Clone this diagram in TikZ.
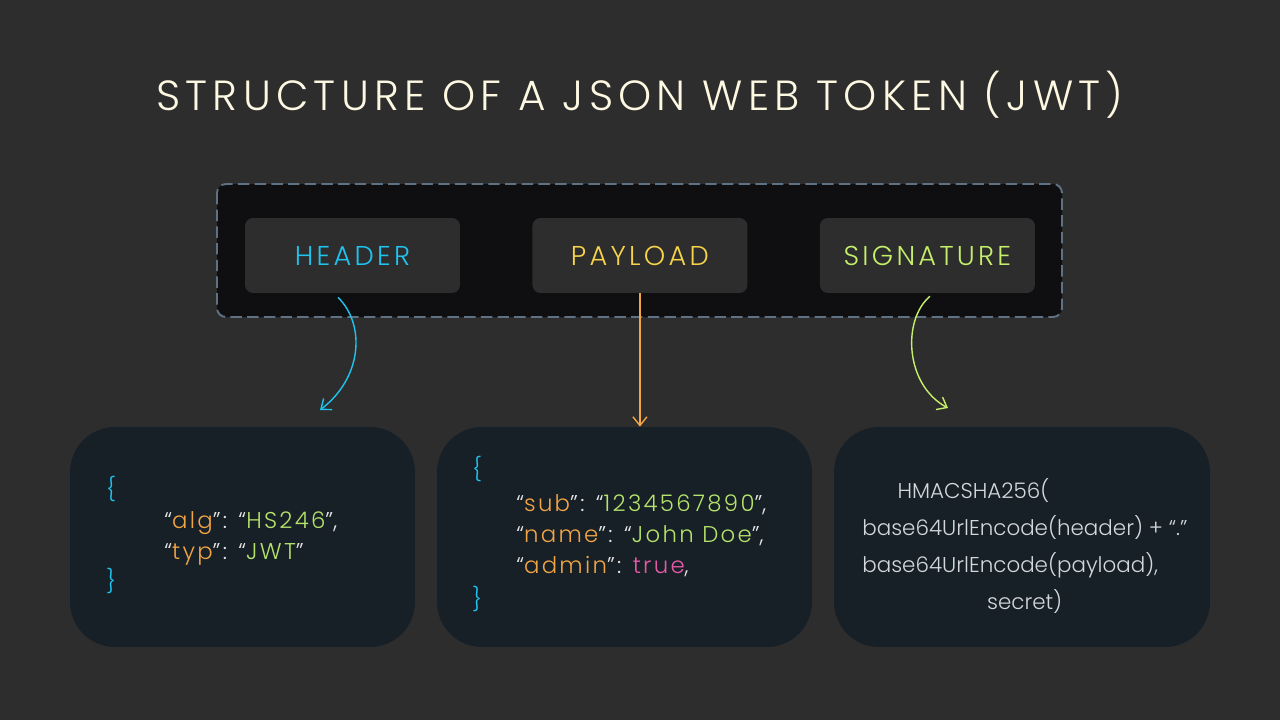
\documentclass[tikz,border=0pt]{standalone}
\usepackage{fontspec}
\usepackage{tikz}
\usetikzlibrary{arrows.meta,positioning}
\newfontfamily\titlefont[LetterSpace=12.5]{Poppins Light}
\newfontfamily\labelfont[LetterSpace=12]{Poppins Light}
\newfontfamily\codefont[LetterSpace=10]{Poppins Light}
\newfontfamily\calcfont{Poppins Light}
\definecolor{bgdark}{HTML}{2D2D2D}
\definecolor{binfill}{HTML}{0F0F11}
\definecolor{bindash}{HTML}{5E7284}
\definecolor{codefill}{HTML}{171F27}
\definecolor{titlecream}{HTML}{FDF8E1}
\definecolor{jwtcyan}{HTML}{1EC3EE}
\definecolor{jwtyellow}{HTML}{F6D34A}
\definecolor{jwtgreen}{HTML}{C5EF6A}
\definecolor{jwtorange}{HTML}{F2A545}
\definecolor{valgreen}{HTML}{B5E36B}
\definecolor{jwtpink}{HTML}{E85AA8}
\definecolor{quotegray}{HTML}{E6E6E6}
\definecolor{calcgray}{HTML}{D4D8DC}
\newcommand{\key}[1]{{\color{quotegray}“}{\color{jwtorange}#1}{\color{quotegray}”:}}
\newcommand{\val}[1]{{\color{quotegray}“}{\color{valgreen}#1}{\color{quotegray}”}}
\tikzstyle{element}=[
  fill=bgdark,
  font={\fontsize{15.5}{18}\labelfont},
  inner sep=0pt,
  minimum height=1.5cm,
  minimum width=4.3cm,
  rectangle,
  rounded corners=.16cm,
  text centered,
]
\tikzstyle{bin}=[
  fill=binfill,
  draw=bindash,
  line width=1.1pt,
  dash pattern=on 6.5pt off 3pt,
  rounded corners=.18cm,
]
\tikzstyle{codebox}=[
  fill=codefill,
  inner sep=0pt,
  minimum height=4.4cm,
  rectangle,
  rounded corners=.9cm,
]
\tikzstyle{code}=[
  align=left,
  color=quotegray,
  font={\fontsize{13}{17.5}\codefont},
  inner sep=0pt,
]
\tikzstyle{arrow}=[
  line width=.8pt,
]
\tikzset{
  node distance=5.75cm,
  >={Straight Barb[length=5pt,width=8pt]},
}
\begin{document}
\begin{tikzpicture}[x=0.02cm,y=-0.02cm]
    \path [fill=bgdark] (0,0) rectangle (1280,720);
    \useasboundingbox (0,0) rectangle (1280,720);
    \node (title) [color=titlecream, font={\fontsize{24}{28}\titlefont}] at (640,95) {STRUCTURE OF A JSON WEB TOKEN (JWT)};
    % token with its three parts
    \coordinate (A) at (217,184);
    \coordinate (B) at (1062,317);
    \path [bin] (A) rectangle (B);
    \node (header) [element, text=jwtcyan] at (352.5,255.5) {HEADER};
    \node (payload) [element, text=jwtyellow, right of=header] {PAYLOAD};
    \node (signature) [element, text=jwtgreen, right of=payload] {SIGNATURE};
    % decoded parts
    \node (headerbox) [codebox, minimum width=6.9cm] at (242.5,537) {};
    \node (payloadbox) [codebox, minimum width=7.5cm] at (624.5,537) {};
    \node (signaturebox) [codebox, minimum width=7.52cm] at (1022,537) {};
    \node (headercode) [code, anchor=north west] at (106,476) {%
      {\color{jwtcyan}\{}\\
      \hspace*{33pt}\key{alg} \val{HS246},\\
      \hspace*{33pt}\key{typ} \val{JWT}\\
      {\color{jwtcyan}\}}};
    \node (payloadcode) [code, anchor=north west] at (472,456) {%
      {\color{jwtcyan}\{}\\[2pt]
      \hspace*{25pt}\key{sub} \val{1234567890},\\
      \hspace*{25pt}\key{name} \val{John Doe},\\
      \hspace*{25pt}\key{admin} {\color{jwtpink}true},\\[2pt]
      {\color{jwtcyan}\}}};
    \node (signaturecode) [code, color=calcgray, font={\fontsize{12.2}{21}\calcfont}, anchor=north west] at (862,478) {%
      \hspace*{20pt}HMACSHA256(\\
      base64UrlEncode(header) + “.”\\
      base64UrlEncode(payload),\\
      \hspace*{71pt}secret)};
    % links
    \coordinate (headerend) at (320,410);
    \coordinate (signatureend) at (948,408);
    \draw [->, arrow, jwtcyan] ([xshift=-.29cm,yshift=-.08cm]header.south) .. controls (366,325) and (362,378) .. (headerend);
    \draw [->, arrow, jwtorange] (payload.south) -- (payload.south |- payloadbox.north);
    \draw [->, arrow, jwtgreen] ([xshift=.05cm,yshift=-.06cm]signature.south) .. controls (902,320) and (905,385) .. (signatureend);
  \end{tikzpicture}
\end{document}
